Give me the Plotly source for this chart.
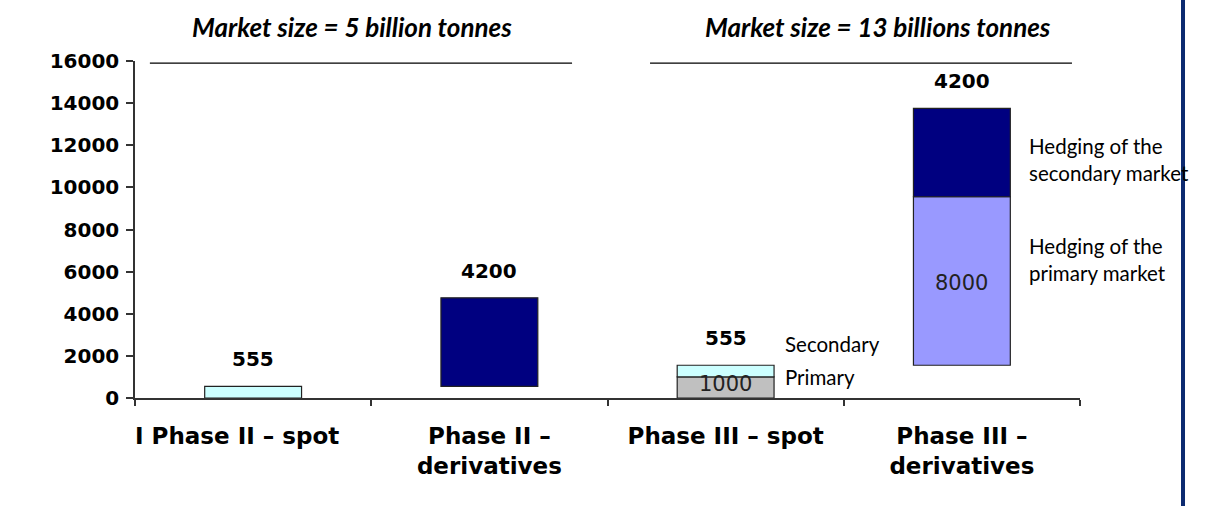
import plotly.graph_objects as go

# Categories (two phases, spot then derivatives)
categories = ["I Phase II – spot\u00a0\u00a0\u00a0\u00a0", "Phase II –<br>derivatives",
              "Phase III – spot", "Phase III –<br>derivatives"]
phase_of = [2, 2, 3, 3]

# Volumes per segment (million tonnes); None = segment absent
primary_spot = [None, None, 1000, None]
secondary_spot = [555, None, 555, None]
primary_hedging = [None, None, None, 8000]
secondary_hedging = [None, 4200, None, 4200]

titles = ["Market size = 5 billion tonnes", "Market size = 13 billions tonnes"]

segments = [
    ("Primary", primary_spot, "#c0c0c0"),
    ("Secondary", secondary_spot, "#ccffff"),
    ("Hedging of the primary market", primary_hedging, "#9999ff"),
    ("Hedging of the secondary market", secondary_hedging, "#000080"),
]

# Waterfall bases: running total restarts with each phase
bases = {name: [None] * len(categories) for name, _, _ in segments}
tops = [0] * len(categories)
running = 0
for i in range(len(categories)):
    if i == 0 or phase_of[i] != phase_of[i - 1]:
        running = 0
    for name, vals, _ in segments:
        if vals[i] is not None:
            bases[name][i] = running
            running += vals[i]
    tops[i] = running

fig = go.Figure()
for name, vals, color in segments:
    fig.add_trace(go.Bar(
        x=categories, y=vals, base=bases[name], name=name,
        marker=dict(color=color, line=dict(color="#222222", width=1.2)),
        width=0.41, showlegend=False, hoverinfo="skip",
    ))

arial_like = "DejaVu Sans"
calibri_like = "Lato"
annotations = []

# Increment labels on top of the last segment of each bar
top_labels = [secondary_spot[0], secondary_hedging[1], secondary_spot[2], secondary_hedging[3]]
for i, v in enumerate(top_labels):
    annotations.append(dict(
        x=categories[i], y=tops[i], text=str(v), showarrow=False,
        yanchor="middle", yshift=27,
        font=dict(family=arial_like, size=20, color="black", weight="bold"),
    ))

# Values written inside the primary segments
for vals, name in [(primary_spot, "Primary"), (primary_hedging, "Hedging of the primary market")]:
    for i, v in enumerate(vals):
        if v is not None:
            annotations.append(dict(
                x=categories[i], y=bases[name][i] + v / 2, text=str(v),
                showarrow=False, yshift=3 if v < 2000 else -2,
                font=dict(family=arial_like, size=21, color="#222222"),
            ))

side_font = dict(family=calibri_like, size=20.5, color="black")
# Segment names beside the Phase III bars
annotations += [
    dict(x=2.243, xref="x", y=tops[2], yshift=21, text="Secondary", showarrow=False,
         xanchor="left", yanchor="middle", font=side_font),
    dict(x=2.243, xref="x", y=bases["Secondary"][2], text="Primary", showarrow=False,
         xanchor="left", yanchor="middle", font=side_font),
    dict(x=3.276, xref="x", y=bases["Hedging of the secondary market"][3] + secondary_hedging[3] / 2,
         yshift=-7, text="Hedging of the<br>secondary market", showarrow=False,
         xanchor="left", yanchor="middle", align="left", font=side_font),
    dict(x=3.276, xref="x", y=bases["Hedging of the primary market"][3] + primary_hedging[3] / 2,
         yshift=22, text="Hedging of the<br>primary market", showarrow=False,
         xanchor="left", yanchor="middle", align="left", font=side_font),
]

# Phase headers
for xc, t in zip([0.4185, 2.647], titles):
    annotations.append(dict(
        x=xc, xref="x", y=1.1, yref="paper", text=t, showarrow=False,
        yanchor="middle",
        font=dict(family=calibri_like, size=26, color="black", weight="bold", style="italic"),
    ))

shapes = [
    dict(type="line", xref="x", yref="y", x0=-0.437, x1=1.35, y0=15900, y1=15900,
         line=dict(color="black", width=1.3)),
    dict(type="line", xref="x", yref="y", x0=1.68, x1=3.466, y0=15900, y1=15900,
         line=dict(color="black", width=1.3)),
    dict(type="line", xref="paper", yref="paper", x0=1.109, x1=1.109, y0=-0.5, y1=1.5,
         line=dict(color="#0c2a70", width=4)),
]

fig.update_layout(
    width=1210, height=506,
    margin=dict(l=135, r=130, t=61, b=108, autoexpand=False),
    template="none",
    plot_bgcolor="white", paper_bgcolor="white",
    barmode="overlay",
    annotations=annotations,
    shapes=shapes,
    xaxis=dict(
        type="category", range=[-0.5, 3.5], automargin=False,
        showline=True, linecolor="#333333", linewidth=1.5, mirror=False,
        ticks="outside", tickson="boundaries", ticklen=6, tickcolor="#333333", tickwidth=1.5,
        showgrid=False, zeroline=False, ticklabelstandoff=17, tickangle=0,
        tickfont=dict(family=arial_like, size=23, color="black", weight="bold"),
    ),
    yaxis=dict(
        range=[0, 16000], automargin=False,
        tickvals=list(range(0, 16001, 2000)), tickformat="d",
        showline=True, linecolor="#333333", linewidth=1.5,
        ticks="outside", ticklen=7, tickcolor="#333333", tickwidth=1.5,
        showgrid=False, zeroline=False, ticklabelstandoff=3,
        tickfont=dict(family=arial_like, size=20, color="black", weight="bold"),
    ),
)

fig.write_html("out.html")
